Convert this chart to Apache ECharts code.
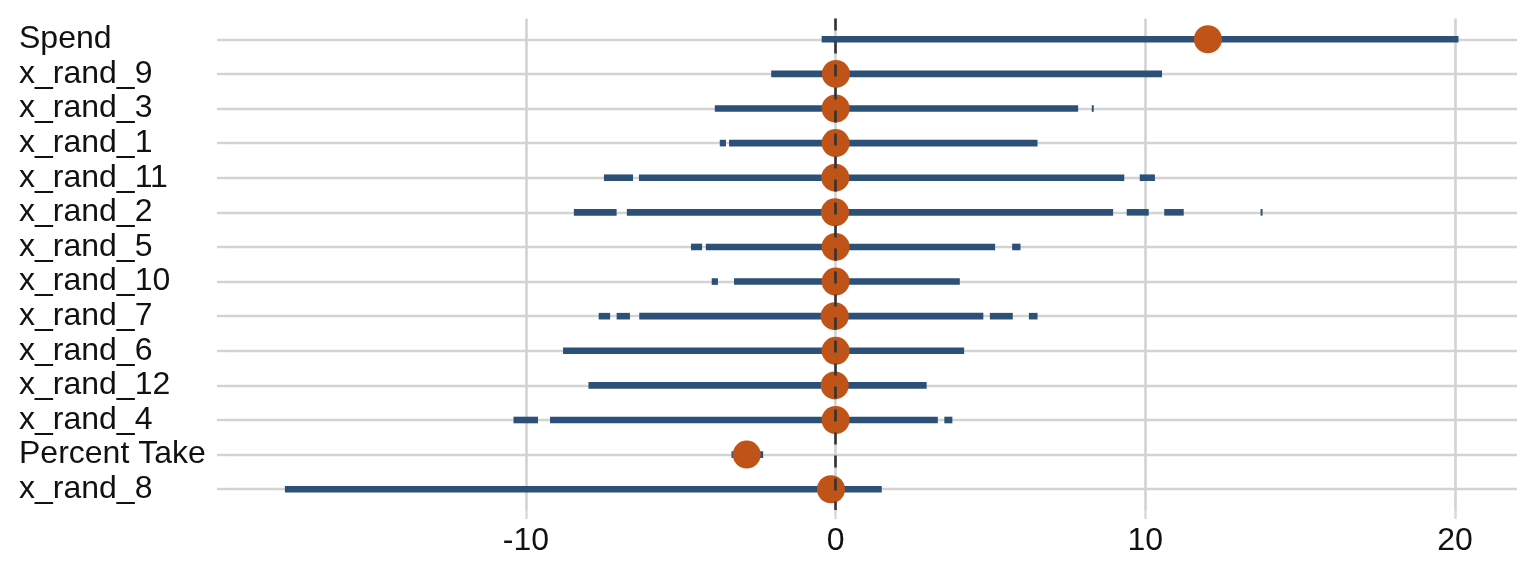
<!DOCTYPE html>
<html><head><meta charset="utf-8">
<script src="https://cdn.jsdelivr.net/npm/echarts@6/dist/echarts.min.js"></script>
<style>html,body{margin:0;padding:0;background:#fff}#c{width:1536px;height:576px}</style>
</head><body><div id="c"></div>
<script>
const categories = ['Spend','x_rand_9','x_rand_3','x_rand_1','x_rand_11','x_rand_2','x_rand_5','x_rand_10','x_rand_7','x_rand_6','x_rand_12','x_rand_4','Percent Take','x_rand_8'];
const pointEstimates = [12.02, 0.01, 0.0, 0.0, -0.01, -0.02, 0.0, 0.0, -0.03, 0.0, -0.03, 0.0, -2.87, -0.15];
const intervals = [
  [[-0.45, 20.11]],
  [[-2.08, 10.54]],
  [[-3.90, 7.83], [8.27, 8.31]],
  [[-3.74, -3.54], [-3.44, 6.52]],
  [[-7.48, -6.54], [-6.35, 9.32], [9.82, 10.31]],
  [[-8.45, -7.07], [-6.74, 8.96], [9.40, 10.11], [10.61, 11.24], [13.72, 13.77]],
  [[-4.67, -4.31], [-4.19, 5.15], [5.70, 5.97]],
  [[-4.00, -3.80], [-3.28, 4.01]],
  [[-7.65, -7.28], [-7.07, -6.64], [-6.34, 4.77], [4.98, 5.72], [6.24, 6.52]],
  [[-8.80, 4.15]],
  [[-7.98, 2.94]],
  [[-10.40, -9.61], [-9.22, 3.30], [3.51, 3.77]],
  [[-3.36, -2.34]],
  [[-17.78, 1.49]]
];
const xTicks = [-10, 0, 10, 20];

const rowIdx = categories.map((c, i) => i);
const segData = [];
intervals.forEach((segs, i) => segs.forEach(s => segData.push([s[0], s[1], i])));
const pointData = pointEstimates.map((v, i) => [v, i]);

const FONT = '"Liberation Sans", Arial, Helvetica, sans-serif';
const GRID = '#d3d3d3';
const BAR = '#2c5078';
const DOT = '#c05317';

const chart = echarts.init(document.getElementById('c'), null, {renderer: 'canvas'});
chart.setOption({
  animation: false,
  backgroundColor: '#ffffff',
  grid: {left: 227, right: 19, top: 18.5, bottom: 66, containLabel: false},
  xAxis: {
    type: 'value', min: -19.65, max: 22.0,
    axisLine: {show: false, onZero: false},
    axisTick: {show: true, customValues: xTicks, length: 9, lineStyle: {color: '#dadada', width: 2.5}},
    axisLabel: {customValues: xTicks, color: '#111', fontFamily: FONT, fontSize: 32, margin: 15},
    splitLine: {show: true, lineStyle: {color: GRID, width: 2.6}}
  },
  yAxis: {
    type: 'value', inverse: true, min: -0.6, max: 13.6,
    axisLine: {show: false, onZero: false},
    axisTick: {show: true, customValues: rowIdx, length: 10, lineStyle: {color: GRID, width: 2.4}},
    axisLabel: {customValues: rowIdx, formatter: v => categories[Math.round(v)] || '', align: 'left', margin: 208,
      verticalAlign: 'middle', padding: [6, 0, 0, 0],
      color: '#111', fontFamily: FONT, fontSize: 32},
    splitLine: {show: true, lineStyle: {color: GRID, width: 2.4}}
  },
  series: [
    {
      type: 'scatter', z: 1, symbolSize: 0, data: [[0, 0]], silent: true,
      markLine: {
        silent: true, symbol: 'none', label: {show: false},
        lineStyle: {color: '#333333', width: 2.6, type: [12, 11]},
        data: [{xAxis: 0}]
      }
    },
    {
      type: 'custom', z: 2, data: segData, encode: {x: [0, 1], y: 2},
      renderItem: function (params, api) {
        const a = api.coord([api.value(0), api.value(2)]);
        const b = api.coord([api.value(1), api.value(2)]);
        const h = 6.6;
        return {type: 'rect', shape: {x: a[0], y: a[1] - h / 2, width: Math.max(b[0] - a[0], 2), height: h},
          style: {fill: BAR}};
      }
    },
    {
      type: 'scatter', z: 3, symbolSize: 28, data: pointData,
      itemStyle: {color: DOT, opacity: 1}
    }
  ]
});
</script></body></html>
